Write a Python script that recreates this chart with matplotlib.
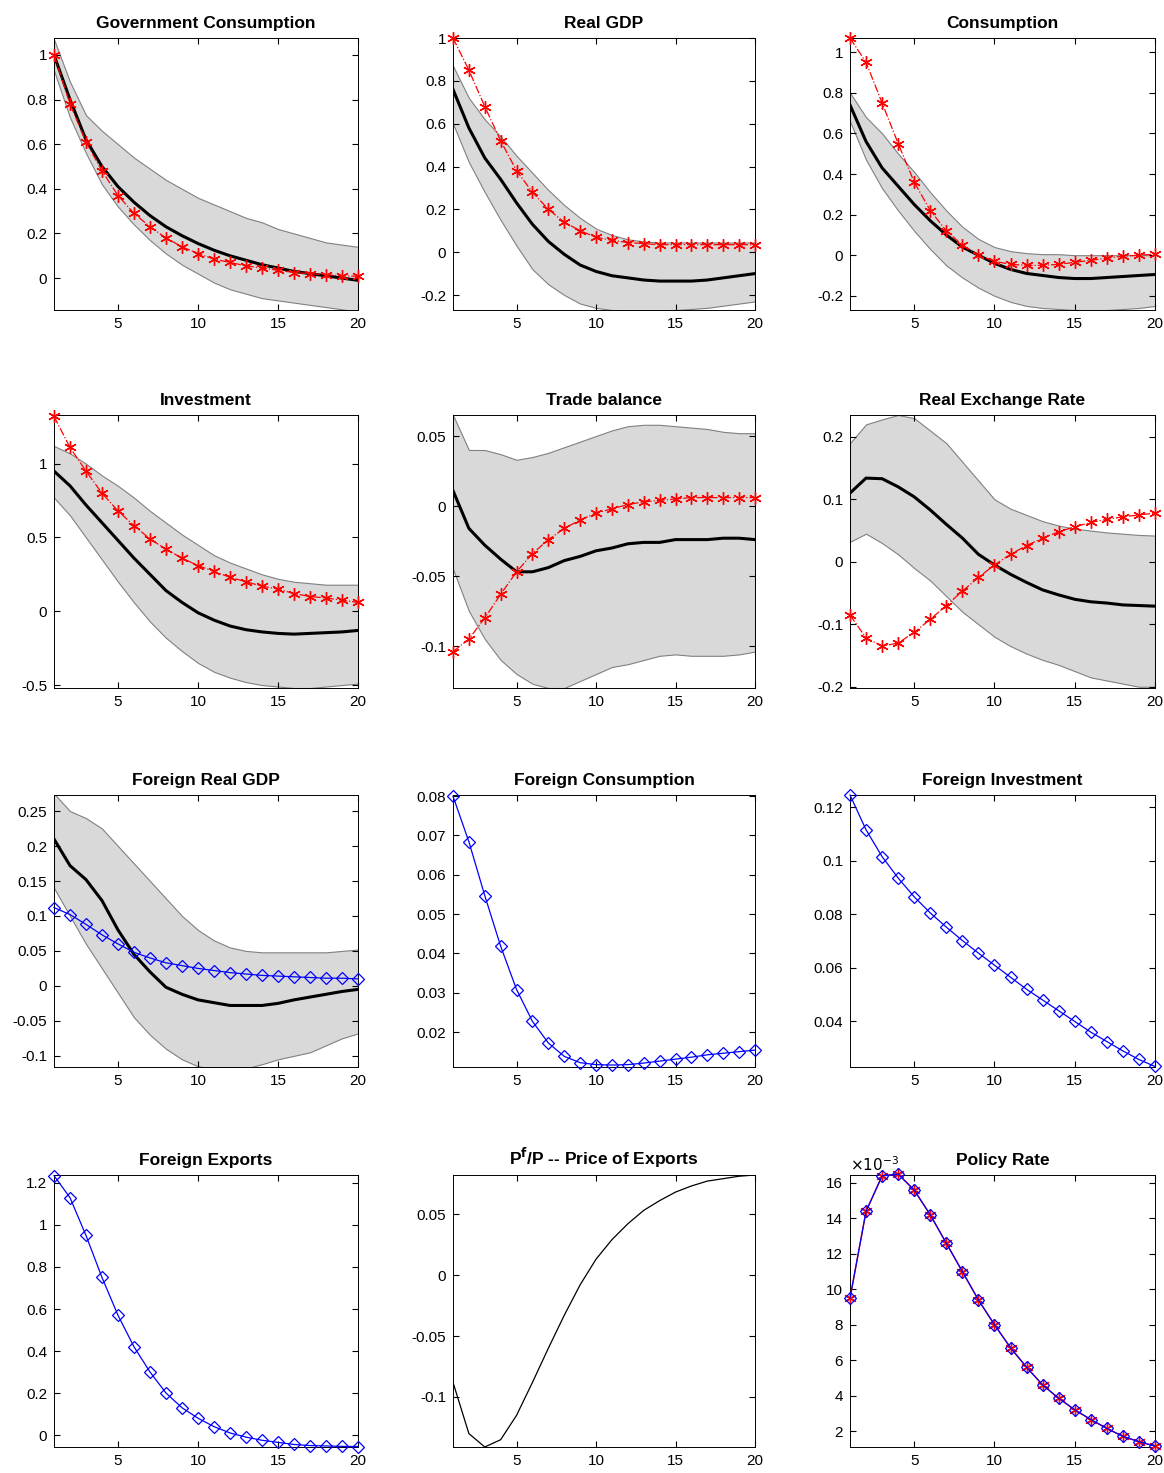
import matplotlib
matplotlib.use("Agg")
import matplotlib.pyplot as plt
import numpy as np

plt.rcParams['font.family'] = ['Liberation Sans', 'DejaVu Sans']
x = np.arange(1, 21)

titles = ["Government Consumption", "Real GDP", "Consumption", "Investment", "Trade balance",
          "Real Exchange Rate", "Foreign Real GDP", "Foreign Consumption", "Foreign Investment",
          "Foreign Exports", "P$^{\\mathbf{f}}$/P -- Price of Exports", "Policy Rate"]

gov_med = [1, 0.8, 0.62, 0.5, 0.41, 0.34, 0.28, 0.23, 0.19, 0.155, 0.125, 0.1, 0.08, 0.06, 0.045, 0.03, 0.02, 0.01, 0.0, -0.01]
gov_up = [1.07, 0.88, 0.73, 0.66, 0.6, 0.54, 0.49, 0.44, 0.40, 0.36, 0.33, 0.30, 0.27, 0.25, 0.22, 0.20, 0.18, 0.16, 0.15, 0.14]
gov_lo = [0.93, 0.72, 0.56, 0.42, 0.32, 0.24, 0.17, 0.11, 0.06, 0.02, -0.02, -0.05, -0.07, -0.09, -0.1, -0.11, -0.12, -0.13, -0.14, -0.15]
gov_red = [1, 0.78, 0.61, 0.48, 0.37, 0.29, 0.23, 0.18, 0.14, 0.11, 0.085, 0.07, 0.055, 0.045, 0.035, 0.025, 0.02, 0.015, 0.01, 0.008]

gdp_med = [0.76, 0.58, 0.44, 0.34, 0.23, 0.13, 0.05, -0.01, -0.06, -0.09, -0.11, -0.12, -0.13, -0.135, -0.135, -0.135, -0.13, -0.12, -0.11, -0.1]
gdp_up = [0.87, 0.72, 0.62, 0.54, 0.45, 0.37, 0.29, 0.22, 0.16, 0.11, 0.08, 0.06, 0.05, 0.045, 0.045, 0.045, 0.045, 0.045, 0.045, 0.045]
gdp_lo = [0.6, 0.42, 0.28, 0.15, 0.03, -0.08, -0.15, -0.2, -0.24, -0.26, -0.27, -0.275, -0.275, -0.275, -0.27, -0.265, -0.26, -0.25, -0.24, -0.23]
gdp_red = [1.0, 0.85, 0.68, 0.52, 0.38, 0.28, 0.2, 0.14, 0.1, 0.07, 0.055, 0.045, 0.04, 0.035, 0.035, 0.035, 0.035, 0.035, 0.035, 0.035]

con_med = [0.74, 0.56, 0.43, 0.34, 0.25, 0.17, 0.1, 0.04, 0.0, -0.04, -0.07, -0.09, -0.1, -0.11, -0.115, -0.115, -0.11, -0.105, -0.1, -0.095]
con_up = [0.8, 0.68, 0.6, 0.5, 0.41, 0.31, 0.22, 0.14, 0.08, 0.04, 0.02, 0.01, 0.005, 0.005, 0.0, 0.0, 0.0, 0.0, 0.0, 0.0]
con_lo = [0.66, 0.47, 0.33, 0.22, 0.12, 0.03, -0.05, -0.11, -0.16, -0.2, -0.23, -0.25, -0.26, -0.265, -0.27, -0.27, -0.27, -0.265, -0.26, -0.25]
con_red = [1.07, 0.95, 0.75, 0.55, 0.36, 0.22, 0.12, 0.05, 0.0, -0.03, -0.045, -0.05, -0.05, -0.045, -0.035, -0.025, -0.015, -0.005, 0.0, 0.005]

inv_med = [0.95, 0.85, 0.72, 0.6, 0.48, 0.36, 0.25, 0.14, 0.06, -0.01, -0.06, -0.1, -0.125, -0.14, -0.15, -0.155, -0.15, -0.145, -0.14, -0.13]
inv_up = [1.12, 1.07, 1.0, 0.92, 0.85, 0.77, 0.68, 0.6, 0.52, 0.45, 0.38, 0.33, 0.29, 0.25, 0.22, 0.2, 0.19, 0.18, 0.18, 0.18]
inv_lo = [0.77, 0.65, 0.5, 0.35, 0.2, 0.06, -0.07, -0.18, -0.27, -0.35, -0.41, -0.45, -0.48, -0.5, -0.51, -0.52, -0.52, -0.51, -0.5, -0.49]
inv_red = [1.32, 1.11, 0.95, 0.8, 0.68, 0.58, 0.49, 0.42, 0.36, 0.31, 0.27, 0.23, 0.2, 0.17, 0.15, 0.12, 0.1, 0.09, 0.075, 0.06]

tb_med = [0.011, -0.016, -0.028, -0.038, -0.047, -0.047, -0.044, -0.039, -0.036, -0.032, -0.030, -0.027, -0.026, -0.026, -0.024, -0.024, -0.024, -0.023, -0.023, -0.024]
tb_up = [0.065, 0.04, 0.04, 0.037, 0.033, 0.035, 0.038, 0.042, 0.046, 0.05, 0.054, 0.057, 0.058, 0.058, 0.057, 0.056, 0.055, 0.053, 0.052, 0.052]
tb_lo = [-0.045, -0.075, -0.095, -0.11, -0.12, -0.127, -0.13, -0.13, -0.125, -0.12, -0.115, -0.113, -0.11, -0.107, -0.106, -0.107, -0.107, -0.107, -0.106, -0.104]
tb_red = [-0.104, -0.095, -0.08, -0.063, -0.047, -0.034, -0.024, -0.016, -0.010, -0.005, -0.002, 0.001, 0.003, 0.004, 0.005, 0.006, 0.006, 0.006, 0.006, 0.006]

rer_med = [0.11, 0.134, 0.133, 0.12, 0.104, 0.083, 0.06, 0.038, 0.012, -0.005, -0.02, -0.033, -0.045, -0.053, -0.06, -0.064, -0.066, -0.069, -0.07, -0.071]
rer_up = [0.19, 0.22, 0.228, 0.235, 0.23, 0.21, 0.19, 0.16, 0.13, 0.1, 0.085, 0.075, 0.065, 0.058, 0.053, 0.05, 0.047, 0.045, 0.043, 0.042]
rer_lo = [0.032, 0.045, 0.03, 0.012, -0.01, -0.03, -0.055, -0.08, -0.1, -0.12, -0.135, -0.147, -0.157, -0.165, -0.175, -0.185, -0.19, -0.195, -0.2, -0.2]
rer_red = [-0.085, -0.122, -0.135, -0.13, -0.113, -0.092, -0.07, -0.047, -0.025, -0.005, 0.012, 0.026, 0.038, 0.048, 0.056, 0.063, 0.068, 0.072, 0.075, 0.078]

fgdp_med = [0.21, 0.172, 0.152, 0.122, 0.08, 0.045, 0.02, -0.002, -0.012, -0.02, -0.024, -0.028, -0.028, -0.028, -0.025, -0.02, -0.016, -0.012, -0.008, -0.005]
fgdp_up = [0.275, 0.25, 0.24, 0.225, 0.2, 0.175, 0.15, 0.125, 0.1, 0.08, 0.065, 0.055, 0.05, 0.048, 0.048, 0.048, 0.048, 0.048, 0.05, 0.052]
fgdp_lo = [0.14, 0.1, 0.06, 0.025, -0.01, -0.045, -0.07, -0.09, -0.105, -0.115, -0.118, -0.118, -0.118, -0.112, -0.105, -0.1, -0.095, -0.085, -0.075, -0.068]
fgdp_blue = [0.112, 0.102, 0.088, 0.073, 0.06, 0.048, 0.04, 0.033, 0.029, 0.025, 0.022, 0.019, 0.017, 0.015, 0.014, 0.013, 0.012, 0.011, 0.011, 0.01]

fcon_blue = [0.080, 0.0684, 0.0547, 0.0418, 0.0308, 0.0227, 0.0172, 0.0138, 0.0122, 0.0117, 0.0116, 0.0117, 0.0121, 0.0126, 0.0131, 0.0136, 0.0142, 0.0146, 0.0150, 0.0154]
finv_blue = [0.1245, 0.1115, 0.1015, 0.0935, 0.0865, 0.0805, 0.0752, 0.0702, 0.0655, 0.061, 0.0565, 0.052, 0.048, 0.044, 0.040, 0.036, 0.0325, 0.029, 0.0258, 0.0232]
fexp_blue = [1.235, 1.13, 0.95, 0.75, 0.57, 0.42, 0.3, 0.2, 0.13, 0.08, 0.04, 0.01, -0.01, -0.025, -0.035, -0.045, -0.05, -0.052, -0.054, -0.055]
pfp_line = [-0.088, -0.13, -0.141, -0.135, -0.115, -0.088, -0.06, -0.033, -0.008, 0.013, 0.029, 0.042, 0.053, 0.061, 0.068, 0.073, 0.077, 0.079, 0.081, 0.082]
rate_e3 = [9.5, 14.4, 16.4, 16.5, 15.6, 14.2, 12.6, 11.0, 9.4, 8.0, 6.7, 5.6, 4.6, 3.85, 3.2, 2.65, 2.15, 1.7, 1.4, 1.15]

W, H = 1164, 1473
fig = plt.figure(figsize=(W/100, H/100), dpi=100)
cols = [(54, 358), (453, 755), (850, 1155)]
rows = [(38, 310), (415, 688), (795, 1067), (1175, 1447)]
axes = []
for r in rows:
    for c in cols:
        ax = fig.add_axes([c[0]/W, 1 - r[1]/H, (c[1]-c[0])/W, (r[1]-r[0])/H])
        axes.append(ax)

AST = (6, 2, 0)

def band(ax, up, lo, med):
    ax.fill_between(x, lo, up, facecolor='#d9d9d9', edgecolor='#808080', linewidth=0.8)
    ax.plot(x, med, 'k-', lw=2.2)

def red(ax, y):
    ax.plot(x, y, color='red', ls='-.', lw=0.9, marker=AST, ms=9, mew=1.0, clip_on=False, zorder=5)

def blue(ax, y):
    ax.plot(x, y, color='blue', ls='-', lw=0.9, marker='D', ms=6.5, mfc='none', mew=0.9, clip_on=False, zorder=5)

band(axes[0], gov_up, gov_lo, gov_med); red(axes[0], gov_red)
axes[0].set_ylim(-0.143, 1.076); axes[0].set_yticks(np.arange(0, 1.01, 0.2))
band(axes[1], gdp_up, gdp_lo, gdp_med); red(axes[1], gdp_red)
axes[1].set_ylim(-0.27, 1.0); axes[1].set_yticks(np.arange(-0.2, 1.01, 0.2))
band(axes[2], con_up, con_lo, con_med); red(axes[2], con_red)
axes[2].set_ylim(-0.27, 1.07); axes[2].set_yticks(np.arange(-0.2, 1.01, 0.2))
band(axes[3], inv_up, inv_lo, inv_med); red(axes[3], inv_red)
axes[3].set_ylim(-0.52, 1.33); axes[3].set_yticks([-0.5, 0, 0.5, 1])
band(axes[4], tb_up, tb_lo, tb_med); red(axes[4], tb_red)
axes[4].set_ylim(-0.13, 0.065); axes[4].set_yticks([-0.1, -0.05, 0, 0.05])
band(axes[5], rer_up, rer_lo, rer_med); red(axes[5], rer_red)
axes[5].set_ylim(-0.202, 0.235); axes[5].set_yticks([-0.2, -0.1, 0, 0.1, 0.2])
band(axes[6], fgdp_up, fgdp_lo, fgdp_med); blue(axes[6], fgdp_blue)
axes[6].set_ylim(-0.116, 0.273); axes[6].set_yticks(np.arange(-0.1, 0.26, 0.05))
blue(axes[7], fcon_blue)
axes[7].set_ylim(0.0111, 0.0803); axes[7].set_yticks(np.arange(0.02, 0.081, 0.01))
blue(axes[8], finv_blue)
axes[8].set_ylim(0.023, 0.1245); axes[8].set_yticks([0.04, 0.06, 0.08, 0.1, 0.12])
blue(axes[9], fexp_blue)
axes[9].set_ylim(-0.057, 1.238); axes[9].set_yticks(np.arange(0, 1.21, 0.2))
axes[10].plot(x, pfp_line, 'k-', lw=0.9)
axes[10].set_ylim(-0.141, 0.082); axes[10].set_yticks([-0.1, -0.05, 0, 0.05])
axes[11].plot(x, rate_e3, color='red', ls='-', lw=1.0, marker=AST, ms=9, mew=1.0, clip_on=False, zorder=4)
blue(axes[11], rate_e3)
axes[11].set_ylim(1.1, 16.45); axes[11].set_yticks(np.arange(2, 17, 2))
axes[11].text(0.0, 1.005, r'$\times10^{-3}$', transform=axes[11].transAxes, fontsize=11, va='bottom', ha='left')

for ax, t in zip(axes, titles):
    ax.set_xlim(1, 20)
    ax.set_xticks([5, 10, 15, 20])
    ax.tick_params(direction='in', labelsize=11, length=4, top=True, right=True, pad=5)
    ax.set_yticklabels(['%g' % round(v, 6) for v in ax.get_yticks()])
    ax.set_title(t, fontsize=12.5, fontweight='bold', pad=7)
    for s in ax.spines.values():
        s.set_linewidth(0.7)

fig.savefig('out.png', dpi=100)
